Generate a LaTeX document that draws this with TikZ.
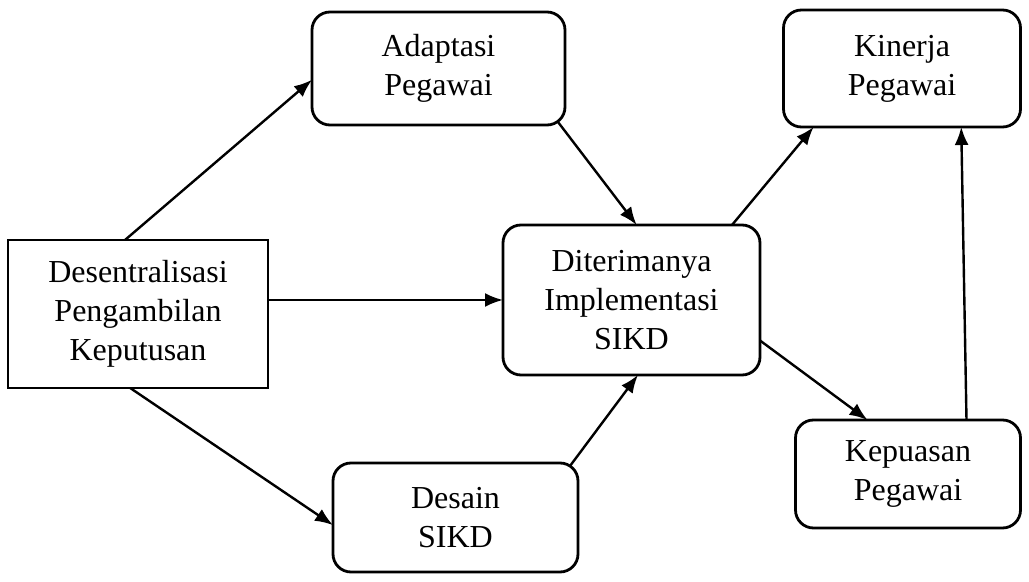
\documentclass[tikz,border=0pt]{standalone}
\usepackage{fontspec}
\setmainfont{Liberation Serif}
\usetikzlibrary{arrows.meta,calc}
\begin{document}
\begin{tikzpicture}[x=0.5pt,y=-0.5pt,
  box/.style={draw,line width=1.4pt,rounded corners=9pt,align=center,
    font=\fontsize{16}{19.5}\selectfont,inner sep=0pt,outer sep=0pt},
  sqbox/.style={box,sharp corners},
  arr/.style={line width=1.2pt,-{Latex[length=9pt,width=7pt]}}]
\useasboundingbox (0,0) rectangle (1029,582);
\node[sqbox,minimum width=130pt,minimum height=74pt] (des) at (138,314) {Desentralisasi\\Pengambilan\\Keputusan};
\node[box,minimum width=126.5pt,minimum height=56.5pt] (adap) at (438.5,68.5) {Adaptasi\\Pegawai};
\node[box,minimum width=128.5pt,minimum height=75pt] (dit) at (631.5,300) {Diterimanya\\Implementasi\\SIKD};
\node[box,minimum width=118.5pt,minimum height=58.5pt] (kin) at (902,68.5) {Kinerja\\Pegawai};
\node[box,minimum width=112.5pt,minimum height=54pt] (kep) at (908,474) {Kepuasan\\Pegawai};
\node[box,minimum width=122.5pt,minimum height=54.5pt] (desain) at (455.5,517.5) {Desain\\SIKD};
% connectors
\draw[arr] ($(des.north west)!0.45!(des.north east)$) -- ($(adap.north west)!0.6!(adap.south west)$);
\draw[arr] (des.east |- dit.west) -- (dit.west);
\draw[arr] ($(des.south west)!0.47!(des.south east)$) -- ($(desain.north west)!0.57!(desain.south west)$);
\draw[arr] ($(adap.south east)+(-7,-3)$) -- ($(dit.north west)!0.52!(dit.north east)$);
\draw[arr] ($(desain.north east)+(-8,3)$) -- ($(dit.south west)!0.525!(dit.south east)$);
\draw[arr] ($(dit.north east)+(-28,0)$) -- ($(kin.south west)!0.127!(kin.south east)$);
\draw[arr] ($(dit.north east)!0.77!(dit.south east)$) -- ($(kep.north west)!0.32!(kep.north east)$);
\draw[arr] ($(kep.north west)!0.76!(kep.north east)$) -- ($(kin.south west)!0.75!(kin.south east)$);
\end{tikzpicture}
\end{document}
